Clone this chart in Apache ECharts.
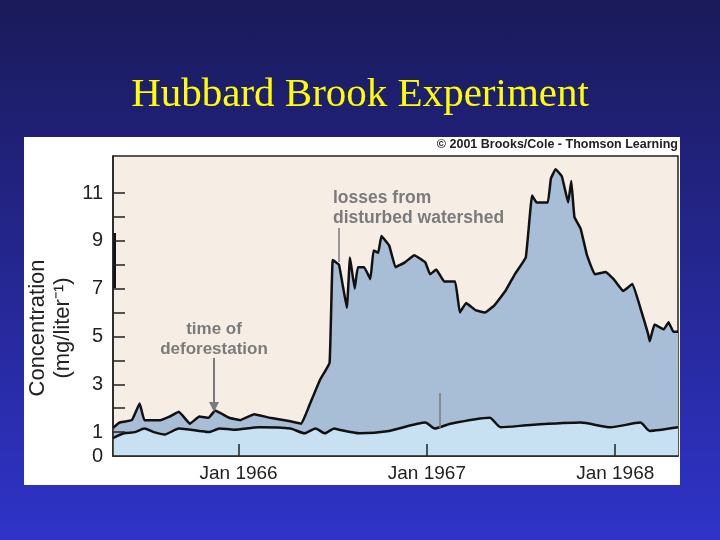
<!DOCTYPE html>
<html><head><meta charset="utf-8">
<script src="https://cdn.jsdelivr.net/npm/echarts@6/dist/echarts.min.js"></script>
<style>
html,body{margin:0;padding:0;width:720px;height:540px;overflow:hidden;background:linear-gradient(#1a1a5a,#2f33c8);}
#panel{position:absolute;left:24px;top:137px;width:656px;height:348px;background:#fff;}
#c{position:absolute;left:0;top:0;width:720px;height:540px;}
</style></head><body>
<div id="panel"></div>
<div id="c"></div>
<script>
// x in months from Jan 1966
const disturbed = [[-8.0,1.17],[-7.6,1.4],[-6.8,1.5],[-6.3,2.2],[-6.0,1.5],[-5.0,1.5],[-4.4,1.65],[-3.8,1.85],[-3.1,1.35],[-2.5,1.65],[-1.9,1.6],[-1.5,1.9],[-0.6,1.6],[0.1,1.5],[1.0,1.75],[2.0,1.6],[3.3,1.45],[4.0,1.35],[4.5,2.1],[5.2,3.2],[5.8,3.9],[6.0,8.2],[6.4,8.0],[6.9,6.2],[7.1,8.3],[7.4,7.0],[7.6,7.9],[8.0,7.9],[8.4,7.4],[8.6,8.6],[8.9,8.5],[9.1,9.2],[9.6,8.8],[10.0,7.9],[10.6,8.1],[11.2,8.4],[11.9,8.1],[12.2,7.6],[12.6,7.8],[13.1,7.3],[13.8,7.3],[14.1,6.0],[14.5,6.4],[15.1,6.1],[15.7,6.0],[16.3,6.3],[17.0,6.9],[17.6,7.6],[18.3,8.3],[18.7,10.9],[19.0,10.6],[19.7,10.6],[19.9,11.6],[20.2,12.0],[20.6,11.7],[21.0,10.6],[21.2,11.5],[21.4,10.0],[21.8,9.5],[22.2,8.4],[22.7,7.6],[23.4,7.7],[23.9,7.4],[24.5,6.9],[25.1,7.2],[25.6,6.2],[26.1,5.1],[26.2,4.8],[26.5,5.5],[27.1,5.3],[27.4,5.6],[27.7,5.2],[28.0,5.2]];
const undisturbed = [[-8.0,0.75],[-7.3,0.95],[-6.6,1.0],[-6.0,1.15],[-5.4,1.0],[-4.7,0.9],[-3.8,1.15],[-2.5,1.05],[-1.9,1.0],[-1.2,1.15],[-0.3,1.1],[1.3,1.2],[3.3,1.15],[4.2,0.95],[4.9,1.15],[5.5,0.95],[6.1,1.15],[6.4,1.1],[7.7,0.95],[9.6,1.05],[11.9,1.4],[12.5,1.15],[13.5,1.35],[16.0,1.6],[16.7,1.2],[18.6,1.3],[21.8,1.4],[23.7,1.2],[25.6,1.4],[26.2,1.05],[28.0,1.2]];
const xTicks = [0,12,24];
const xTickLabels = {0:'Jan 1966',12:'Jan 1967',24:'Jan 1968'};
const yLabels = [0,1,3,5,7,9,11];
const yTicks = [1,2,3,4,5,6,7,8,9,10,11];

const chart = echarts.init(document.getElementById('c'));
const gray = '#7b7b7b';
chart.setOption({
  animation:false,
  title:{text:'Hubbard Brook Experiment',left:'center',top:70,
    textStyle:{fontFamily:'Liberation Serif',fontWeight:'normal',fontSize:41,color:'#ffff00'}},
  grid:{left:113,right:42,top:156,bottom:84,show:true,backgroundColor:'#f6ede5',borderColor:'#222',borderWidth:1.5},
  xAxis:{type:'value',min:-8,max:28,z:10,
    axisLine:{onZero:false,lineStyle:{color:'#222',width:1.5}},
    axisTick:{show:true,inside:true,length:12,customValues:xTicks,lineStyle:{color:'#222',width:1.5}},
    axisLabel:{customValues:xTicks,formatter:v=>xTickLabels[v]||'',fontSize:19,color:'#222',fontFamily:'Liberation Sans',margin:8},
    splitLine:{show:false}},
  yAxis:{type:'value',min:0,max:12.55,z:10,
    axisLine:{show:true,onZero:false,lineStyle:{color:'#222',width:1.5}},
    axisTick:{show:true,inside:true,length:12,customValues:yTicks,lineStyle:{color:'#222',width:1.5}},
    axisLabel:{customValues:yLabels,fontSize:20,color:'#222',fontFamily:'Liberation Sans',margin:10},
    splitLine:{show:false}},
  series:[
    {type:'line',data:disturbed,symbol:'none',smooth:0.08,z:2,
      lineStyle:{color:'#111',width:2.5},areaStyle:{color:'#a8bdd6',opacity:1}},
    {type:'line',data:undisturbed,symbol:'none',smooth:0.2,z:3,
      lineStyle:{color:'#111',width:2.5},areaStyle:{color:'#c7e1f2',opacity:1}}
  ],
  graphic:[
    {type:'text',right:42,top:138,style:{text:'© 2001 Brooks/Cole - Thomson Learning',fontSize:12.5,fontWeight:'bold',fill:'#222',fontFamily:'Liberation Sans'}},
    {type:'text',x:50,y:328,rotation:Math.PI/2,style:{text:'Concentration\n(mg/liter\u207B\u00B9)',fontSize:22,lineHeight:25,fill:'#222',align:'center',verticalAlign:'middle',fontFamily:'Liberation Sans'}},
    {type:'line',shape:{x1:114.5,y1:233,x2:114.5,y2:288},style:{stroke:'#111',lineWidth:3},z:10},
    {type:'text',x:333,y:188,style:{text:'losses from\ndisturbed watershed',fontSize:17.5,lineHeight:20,fontWeight:'bold',fill:gray,fontFamily:'Liberation Sans'}},
    {type:'line',shape:{x1:339,y1:228,x2:339,y2:262},style:{stroke:gray,lineWidth:1.5},z:10},
    {type:'text',x:214,y:319,style:{text:'time of\ndeforestation',fontSize:17,lineHeight:20,fontWeight:'bold',fill:gray,align:'center',fontFamily:'Liberation Sans'}},
    {type:'line',shape:{x1:214,y1:358,x2:214,y2:404},style:{stroke:gray,lineWidth:2},z:10},
    {type:'polygon',shape:{points:[[209,402],[219,402],[214,412]]},style:{fill:gray},z:10},
    {type:'text',x:434,y:352,style:{text:'losses from\nundisturbed watershed',fontSize:17.5,lineHeight:22,fontWeight:'bold',fill:gray,fontFamily:'Liberation Sans'}},
    {type:'line',shape:{x1:440,y1:393,x2:440,y2:428},style:{stroke:gray,lineWidth:1.5},z:10}
  ]
});
</script></body></html>
